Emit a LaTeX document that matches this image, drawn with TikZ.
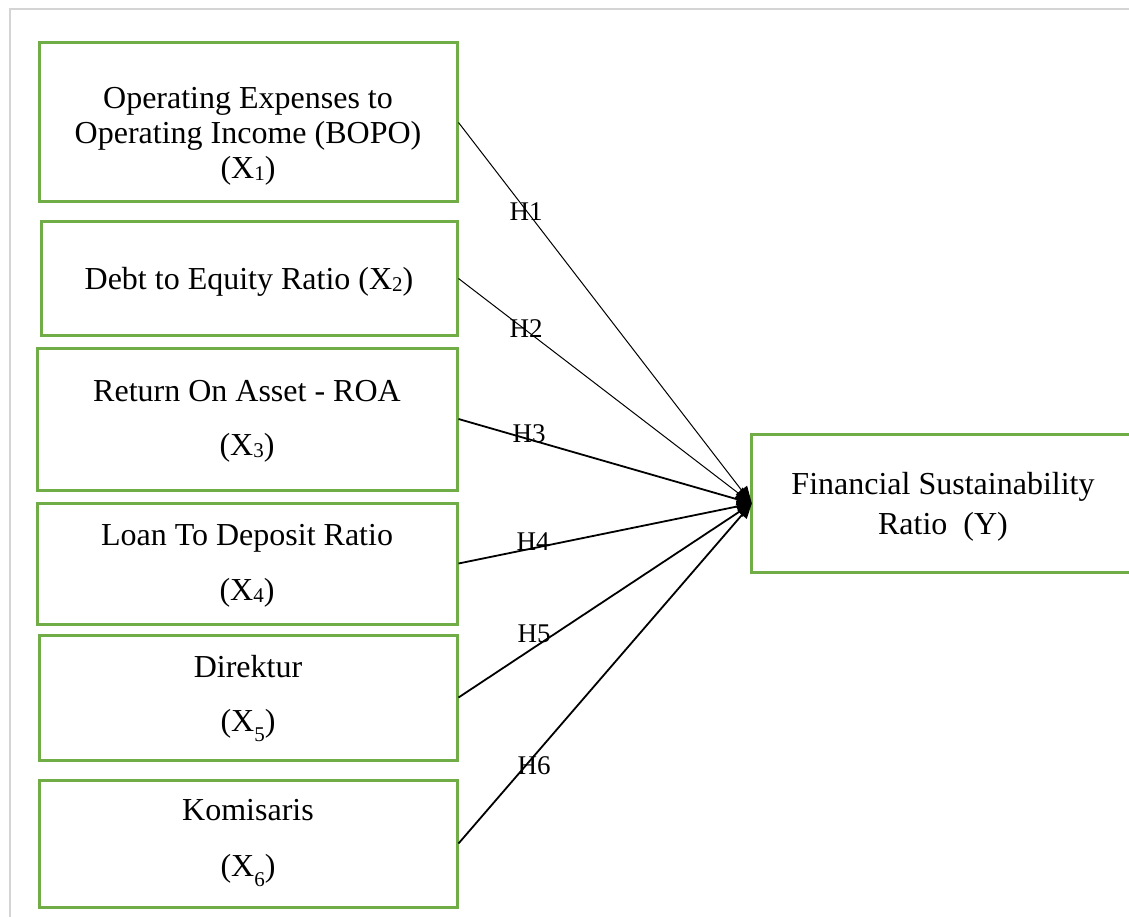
\documentclass[tikz,border=0pt]{standalone}
\usepackage{fontspec}
\setmainfont{Liberation Serif}
\usetikzlibrary{arrows.meta}
\definecolor{boxgreen}{HTML}{70AD47}
\definecolor{framegray}{HTML}{D4D4D4}
\newcommand{\subA}[1]{\raisebox{-2pt}{\fontsize{21}{21}\selectfont #1}}
\newcommand{\subB}[1]{\raisebox{-10pt}{\fontsize{21}{21}\selectfont #1}}
\tikzset{
  varbox/.style={draw=boxgreen, line width=3pt, rectangle, inner sep=0pt},
  vartext/.style={font=\fontsize{32}{35}\selectfont, align=center, inner sep=0pt},
  hlabel/.style={font=\fontsize{27}{27}\selectfont, inner sep=0pt},
  thinarrow/.style={line width=1pt, -{Triangle[length=17pt,width=14pt]}},
  thickarrow/.style={line width=1.8pt, -{Triangle[length=15pt,width=12pt]}},
  framestyle/.style={draw=framegray, line width=2pt}
}
\begin{document}
\begin{tikzpicture}[x=1pt,y=-1pt]
\useasboundingbox (0,0) rectangle (1129,917);
\coordinate (fa) at (9.5,917);
\coordinate (fb) at (9.5,9.5);
\coordinate (fc) at (1129,9.5);
\draw[framestyle] (fa) -- (fb) -- (fc);

\node[varbox, minimum width=418pt, minimum height=159pt] (b1) at (248,122.5) {};
\node[varbox, minimum width=416pt, minimum height=113pt] (b2) at (249,278.5) {};
\node[varbox, minimum width=420pt, minimum height=142pt] (b3) at (247,419) {};
\node[varbox, minimum width=420pt, minimum height=121pt] (b4) at (247,563.5) {};
\node[varbox, minimum width=418pt, minimum height=125pt] (b5) at (248,697.5) {};
\node[varbox, minimum width=418pt, minimum height=127pt] (b6) at (248,843.5) {};
\node[inner sep=0pt, minimum width=377pt, minimum height=137pt] (Y) at (940.5,503.5) {};
\draw[draw=boxgreen, line width=3pt] (Y.north east) -- (Y.north west) -- (Y.south west) -- (Y.south east);

\node[vartext] (t1) at (248,136) {Operating Expenses to\\Operating Income (BOPO)\\(X\subA{1})};
\node[vartext] (t2) at (249,282) {Debt to Equity Ratio (X\subA{2})};
\node[vartext] (t3) at (247,421) {Return On Asset - ROA\\[19pt](X\subA{3})};
\node[vartext] (t4) at (247,566) {Loan To Deposit Ratio\\[20pt](X\subA{4})};
\node[vartext] (t5) at (248,698) {Direktur\\[19pt](X\subB{5})};
\node[vartext] (t6) at (248,843) {Komisaris\\[21pt](X\subB{6})};
\node[vartext] (tY) at (943,507) {Financial Sustainability\\[5pt]Ratio~~(Y)};

\draw[thinarrow] (b1.east) -- (Y.west);
\draw[thinarrow] (b2.east) -- (Y.west);
\draw[thickarrow] (b3.east) -- (Y.west);
\draw[thickarrow] (b4.east) -- (Y.west);
\draw[thickarrow] (b5.east) -- (Y.west);
\draw[thickarrow] (b6.east) -- (Y.west);

\node[hlabel] (h1) at (526,212) {H1};
\node[hlabel] (h2) at (526,329) {H2};
\node[hlabel] (h3) at (529,434) {H3};
\node[hlabel] (h4) at (533,542) {H4};
\node[hlabel] (h5) at (534,634) {H5};
\node[hlabel] (h6) at (534,766) {H6};
\end{tikzpicture}
\end{document}
